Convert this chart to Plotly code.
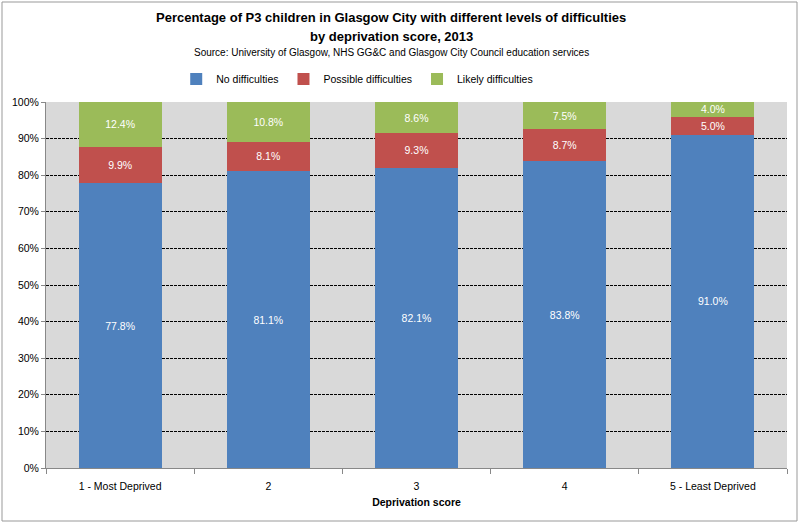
import plotly.graph_objects as go

categories = ["1 - Most Deprived", "2", "3", "4", "5 - Least Deprived"]
no_difficulties = [77.8, 81.1, 82.1, 83.8, 91.0]
possible_difficulties = [9.9, 8.1, 9.3, 8.7, 5.0]
likely_difficulties = [12.4, 10.8, 8.6, 7.5, 4.0]

font = "Liberation Sans Narrow, Liberation Sans, Arial"

fig = go.Figure()
for name, vals, col in [
    ("No difficulties", no_difficulties, "#4F81BD"),
    ("Possible difficulties", possible_difficulties, "#C0504D"),
    ("Likely difficulties", likely_difficulties, "#9BBB59"),
]:
    fig.add_trace(go.Bar(
        x=categories, y=vals, name=name, marker_color=col, marker_line_width=0,
        texttemplate="%{y:.1f}%", textposition="inside", insidetextanchor="middle",
        textangle=0, textfont=dict(color="white", size=10.5, family=font),
    ))

fig.update_layout(
    barmode="stack", bargap=0.44,
    width=800, height=524,
    margin=dict(l=46, r=13, t=102, b=56, autoexpand=False),
    paper_bgcolor="white", plot_bgcolor="#D9D9D9",
    font=dict(family=font, size=10.5, color="black"),
    legend=dict(orientation="h", x=0.42, xanchor="center", y=1.063, yanchor="middle",
                font=dict(size=10.5), itemwidth=30, traceorder="normal"),
    uniformtext=dict(minsize=10.5, mode="show"),
    showlegend=True,
)
fig.update_yaxes(range=[0, 100], dtick=10, ticksuffix="%", showgrid=True,
                 gridcolor="black", griddash="3px,1px", gridwidth=1, zeroline=False,
                 showline=True, linecolor="#888888", ticks="outside", ticklen=4,
                 tickcolor="#888888", tickfont=dict(size=10.5))
fig.update_xaxes(showline=True, linecolor="#888888", ticks="outside", tickson="boundaries",
                 ticklen=5, tickcolor="#888888", tickfont=dict(size=10.5), ticklabelstandoff=8,
                 title=dict(text="<b>Deprivation score</b>", font=dict(size=10.5), standoff=8))

# title lines and source, centred over the chart (pixel rows converted to paper units)
for txt, row, size in [
    ("<b>Percentage of P3 children in Glasgow City with different levels of difficulties</b>", 18, 13),
    ("<b>by deprivation score, 2013</b>", 37, 13),
    ("Source: University of Glasgow, NHS GG&C and Glasgow City Council education services", 53, 10),
]:
    fig.add_annotation(text=txt, xref="paper", yref="paper", x=0.4656, y=(468 - row) / 366,
                       xanchor="center", yanchor="middle", showarrow=False, font=dict(size=size))

# thin grey frame round the whole chart
fig.add_shape(type="rect", xref="paper", yref="paper",
              x0=-44 / 741, x1=751 / 741, y0=-53 / 366, y1=466 / 366,
              line=dict(color="#999999", width=1))

# drop the browser's default 8px page margin so the chart sits at 0,0
fig.write_html("out.html", config={"displayModeBar": False},
               post_script="document.body.style.margin='0';")
